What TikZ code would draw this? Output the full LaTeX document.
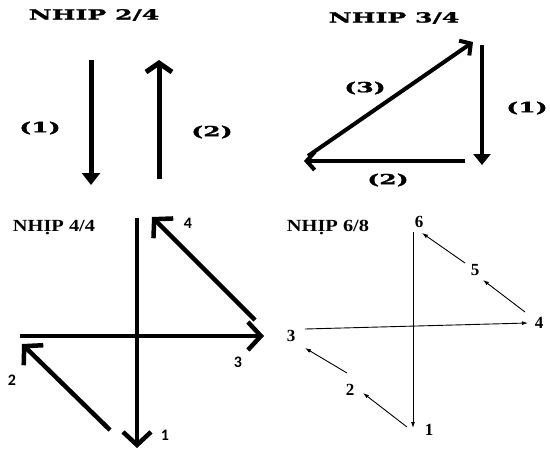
\documentclass[tikz,border=0pt]{standalone}
\usepackage{fontspec}
\setmainfont{Liberation Serif}
\newfontfamily\heavy[FakeStretch=1.8,FakeBold=1.5]{DejaVu Serif}
\newfontfamily\wtimes[FakeStretch=1.2]{Liberation Serif}
\newfontfamily\calib{Carlito}
\usetikzlibrary{arrows.meta}
\begin{document}
\begin{tikzpicture}[x=1pt,y=-1pt,
  heavylbl/.style={font=\heavy\bfseries\fontsize{14}{14}\selectfont, inner sep=0pt},
  timestitle/.style={font=\wtimes\bfseries\fontsize{17}{17}\selectfont, inner sep=0pt},
  calnum/.style={font=\calib\bfseries\fontsize{16}{16}\selectfont, inner sep=0pt},
  timesnum/.style={font=\bfseries\fontsize{17}{17}\selectfont, inner sep=0pt},
  fatarrow/.style={line width=5pt, -{Triangle[length=12pt,width=18pt]}},
  barbarrow/.style={line width=5pt, -{Straight Barb[length=9pt,width=26pt]}},
  medfat/.style={line width=4pt, -{Triangle[length=11pt,width=17pt]}},
  medbarb/.style={line width=4pt, -{Straight Barb[length=8pt,width=18pt]}},
  chev/.style={line width=4.5pt, -{Straight Barb[length=13pt,width=28pt]}},
  thinarrow/.style={line width=0.9pt, -{Latex[length=6pt,width=4pt]}}
]
\useasboundingbox (0,0) rectangle (550,451);
\fill[white] (0,0) rectangle (550,451);

% ---------- NHIP 2/4 ----------
\node[heavylbl] (t24) at (94,15) {NHIP 2/4};
\coordinate (a1s) at (91,60);
\coordinate (a1e) at (91,185);
\coordinate (a2s) at (159,179);
\coordinate (a2e) at (159,60);
\draw[fatarrow] (a1s) -- (a1e);
\draw[barbarrow] (a2s) -- (a2e);
\node[heavylbl] (l24a) at (40,128) {(1)};
\node[heavylbl] (l24b) at (212,132) {(2)};

% ---------- NHIP 3/4 ----------
\node[heavylbl] (t34) at (394,18) {NHIP 3/4};
\coordinate (b1s) at (482,45);
\coordinate (b1e) at (482,165);
\coordinate (b2s) at (465,161);
\coordinate (b2e) at (304,161);
\coordinate (b3s) at (308,156);
\coordinate (b3e) at (473,42);
\draw[medfat] (b1s) -- (b1e);
\draw[medbarb] (b2s) -- (b2e);
\draw[medbarb] (b3s) -- (b3e);
\node[heavylbl] (l34c) at (365,88) {(3)};
\node[heavylbl] (l34a) at (527,108) {(1)};
\node[heavylbl] (l34b) at (388,180) {(2)};

% ---------- NHIP 4/4 ----------
\node[timestitle] (t44) at (54,228) {NHỊP 4/4};
\coordinate (c1s) at (137,218);
\coordinate (c1e) at (137,448);
\coordinate (c3s) at (20,336);
\coordinate (c3e) at (264,336);
\coordinate (c2s) at (110,430);
\coordinate (c2e) at (22,344);
\coordinate (c4s) at (255,320);
\coordinate (c4e) at (152,217);
\draw[chev] (c1s) -- (c1e);
\draw[chev] (c3s) -- (c3e);
\draw[chev] (c2s) -- (c2e);
\draw[chev] (c4s) -- (c4e);
\node[calnum] (n44a) at (165,435) {1};
\node[calnum] (n44b) at (12,380) {2};
\node[calnum] (n44c) at (238,362) {3};
\node[calnum] (n44d) at (188,223) {4};

% ---------- NHIP 6/8 ----------
\node[timestitle] (t68) at (328,228) {NHỊP 6/8};
\coordinate (d6) at (413,232);
\coordinate (d1) at (413,428);
\coordinate (d3) at (305,329);
\coordinate (d4) at (528,323);
\coordinate (d1a) at (407,427);
\coordinate (d2a) at (363,393);
\coordinate (d2b) at (347,373);
\coordinate (d3b) at (305,348);
\coordinate (d4a) at (525,312);
\coordinate (d5a) at (483,280);
\coordinate (d5b) at (465,263);
\coordinate (d6b) at (422,233);
\draw[thinarrow] (d6) -- (d1);
\draw[thinarrow] (d3) -- (d4);
\draw[thinarrow] (d1a) -- (d2a);
\draw[thinarrow] (d2b) -- (d3b);
\draw[thinarrow] (d4a) -- (d5a);
\draw[thinarrow] (d5b) -- (d6b);
\node[timesnum] (n68f) at (419,222) {6};
\node[timesnum] (n68a) at (429,430) {1};
\node[timesnum] (n68c) at (291,336) {3};
\node[timesnum] (n68d) at (539,323) {4};
\node[timesnum] (n68b) at (350,390) {2};
\node[timesnum] (n68e) at (475,270) {5};
\end{tikzpicture}
\end{document}
